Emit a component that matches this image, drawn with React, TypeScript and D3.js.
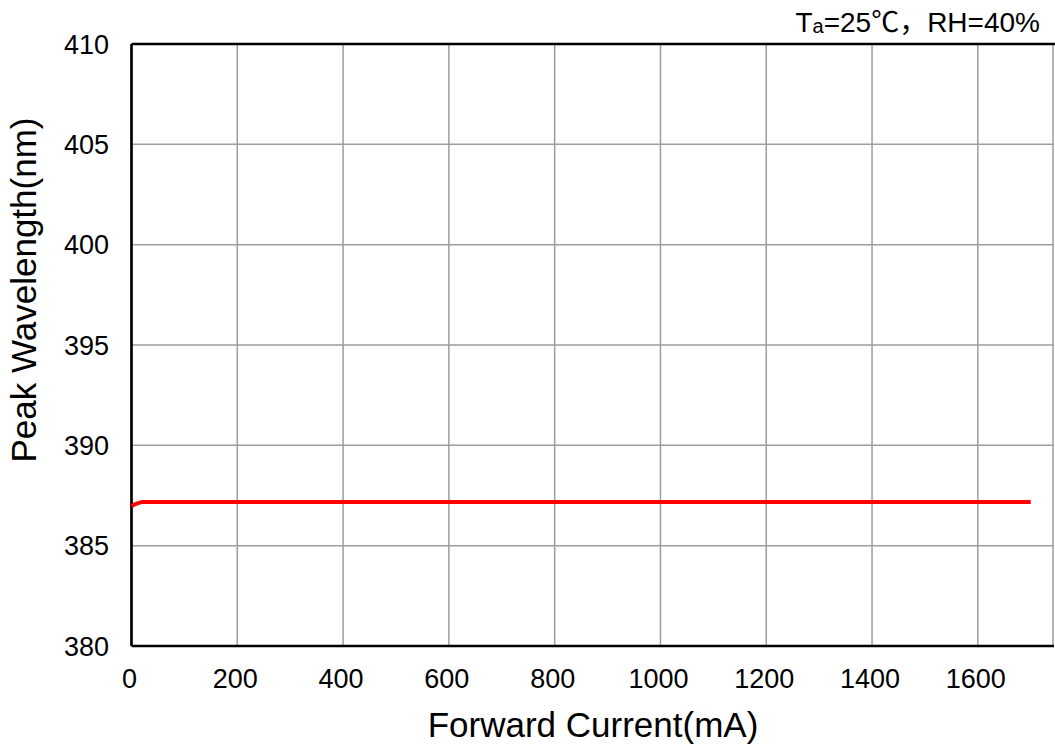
import React, { useEffect, useRef } from 'react';
import * as d3 from 'd3';

// forward current (mA) and peak wavelength (nm)
const currentMA = [0, 5, 10, 20, 50, 100, 200, 400, 600, 800, 1000, 1200, 1400, 1600, 1700];
const peakNm = [386.96, 387.05, 387.1, 387.18, 387.18, 387.18, 387.18, 387.18, 387.18, 387.18, 387.18, 387.18, 387.18, 387.18, 387.18];

const xTicks = [0, 200, 400, 600, 800, 1000, 1200, 1400, 1600];
const yTicks = [380, 385, 390, 395, 400, 405, 410];

const App = () => {
  const svgRef = useRef<SVGSVGElement>(null);

  useEffect(() => {
    const svg = d3.select(svgRef.current);
    svg.selectAll('*').remove();

    const width = 1055;
    const height = 744;
    const margin = { top: 44, right: 1, bottom: 98, left: 131.5 };
    const font = '"Liberation Sans", Arial, "Noto Sans CJK SC", sans-serif';

    const x = d3.scaleLinear().domain([0, 1744]).range([margin.left, width - margin.right]);
    const y = d3.scaleLinear().domain([380, 410]).range([height - margin.bottom, margin.top]);

    svg.attr('width', width).attr('height', height);
    svg.append('rect').attr('width', width).attr('height', height).attr('fill', '#fff');

    // grid
    const grid = svg.append('g').attr('stroke', '#9d9d9d').attr('stroke-width', 1.5);
    xTicks.filter(d => d > 0).forEach(d => {
      grid.append('line')
        .attr('x1', x(d)).attr('x2', x(d))
        .attr('y1', y(410)).attr('y2', y(380));
    });
    yTicks.filter(d => d > 380 && d < 410).forEach(d => {
      grid.append('line')
        .attr('x1', x(0)).attr('x2', x(1744))
        .attr('y1', y(d)).attr('y2', y(d));
    });
    // right edge of the plot is a grey line
    grid.append('line')
      .attr('x1', x(1744) - 1).attr('x2', x(1744) - 1)
      .attr('y1', y(410)).attr('y2', y(380));

    // frame: black top, left, bottom
    const frame = svg.append('g').attr('stroke', '#000').attr('stroke-width', 2.7).attr('fill', 'none');
    frame.append('line').attr('x1', x(0)).attr('x2', width).attr('y1', y(410)).attr('y2', y(410));
    frame.append('line').attr('x1', x(0)).attr('x2', x(0)).attr('y1', y(410)).attr('y2', y(380));
    frame.append('line').attr('x1', x(0)).attr('x2', x(1744)).attr('y1', y(380)).attr('y2', y(380));

    // curve
    const line = d3.line<number>()
      .x((d, i) => x(currentMA[i]))
      .y(d => y(d));
    svg.append('path')
      .datum(peakNm)
      .attr('fill', 'none')
      .attr('stroke', '#ff0000')
      .attr('stroke-width', 4)
      .attr('d', line);

    // tick labels
    svg.append('g').selectAll('text')
      .data(xTicks)
      .join('text')
      .attr('x', d => x(d) - 2)
      .attr('y', 688)
      .attr('text-anchor', 'middle')
      .attr('font-family', font)
      .attr('font-size', 27)
      .attr('fill', '#000')
      .text(d => d);

    svg.append('g').selectAll('text')
      .data(yTicks)
      .join('text')
      .attr('x', 109)
      .attr('y', d => y(d))
      .attr('dy', '0.36em')
      .attr('text-anchor', 'end')
      .attr('font-family', font)
      .attr('font-size', 27)
      .attr('fill', '#000')
      .text(d => d);

    // axis titles
    svg.append('text')
      .attr('x', 593)
      .attr('y', 737)
      .attr('text-anchor', 'middle')
      .attr('font-family', font)
      .attr('font-size', 35)
      .attr('fill', '#000')
      .text('Forward Current(mA)');

    svg.append('text')
      .attr('transform', 'translate(36,290) rotate(-90)')
      .attr('text-anchor', 'middle')
      .attr('font-family', font)
      .attr('font-size', 35)
      .attr('fill', '#000')
      .text('Peak Wavelength(nm)');

    // condition note
    const note = svg.append('text')
      .attr('x', 1040)
      .attr('y', 32)
      .attr('text-anchor', 'end')
      .attr('font-family', font)
      .attr('font-size', 28)
      .attr('fill', '#000');
    note.append('tspan').text('T');
    note.append('tspan').attr('font-size', 20).attr('dy', 1).text('a');
    note.append('tspan').attr('dy', -1).text('=25℃，RH=40%');
  }, []);

  return (
    <svg ref={svgRef} style={{ position: 'absolute', left: 0, top: 0, display: 'block' }}></svg>
  );
};

export default App;
